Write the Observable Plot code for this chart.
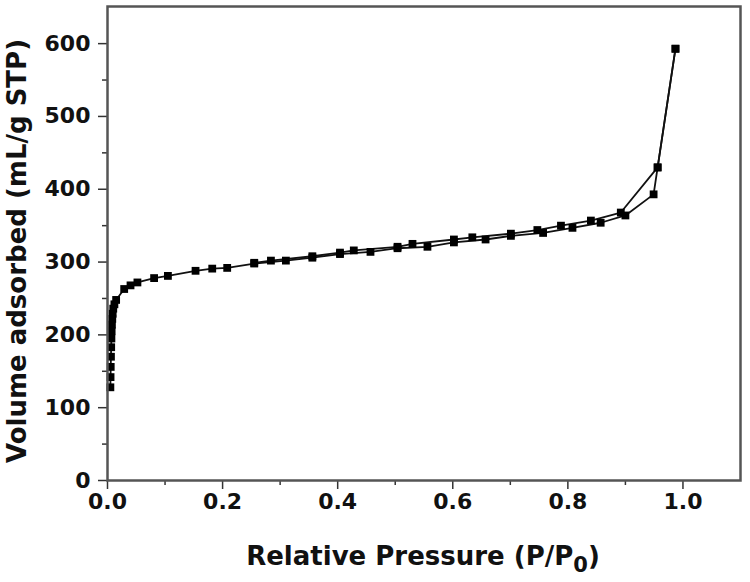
<!DOCTYPE html>
<html>
<head>
<meta charset="utf-8">
<script src="https://cdn.jsdelivr.net/npm/d3@7"></script>
<script src="https://cdn.jsdelivr.net/npm/@observablehq/plot@0.6"></script>
<style>
  html, body { margin: 0; padding: 0; background: #fff; }
  #chart svg { display: block; }
</style>
</head>
<body>
<div id="chart"></div>
<script>
// Adsorption branch
const adsP = [0.005, 0.0053, 0.0056, 0.006, 0.0064, 0.0068, 0.0072, 0.0077, 0.0083, 0.009, 0.010, 0.012, 0.015, 0.029, 0.040, 0.052, 0.081, 0.105, 0.153, 0.182, 0.208, 0.255, 0.310, 0.356, 0.404, 0.457, 0.504, 0.556, 0.602, 0.657, 0.701, 0.757, 0.808, 0.857, 0.900, 0.949, 0.956, 0.987];
const adsV = [128, 142, 156, 170, 183, 195, 205, 214, 222, 229, 236, 242, 248, 263, 268, 272, 278, 281, 288, 291, 292, 298, 302, 306, 311, 314, 319, 321, 327, 331, 336, 340, 347, 354, 364, 393, 430, 593];
// Desorption branch
const desP = [0.987, 0.956, 0.892, 0.840, 0.788, 0.747, 0.701, 0.634, 0.602, 0.530, 0.504, 0.428, 0.404, 0.356, 0.284, 0.255];
const desV = [593, 430, 368, 357, 350, 344, 339, 334, 331, 325, 321, 316, 313, 308, 302, 299];

const xMajor = [0, 0.2, 0.4, 0.6, 0.8, 1.0];
const xMinor = [0.1, 0.3, 0.5, 0.7, 0.9];
const yMajor = [0, 100, 200, 300, 400, 500, 600];
const yMinor = [50, 150, 250, 350, 450, 550];

const data = [
  ...adsP.map((p, i) => ({branch: "ads", p, v: adsV[i]})),
  ...desP.map((p, i) => ({branch: "des", p, v: desV[i]}))
];

const FONT = "'DejaVu Sans', sans-serif";

const chart = Plot.plot({
  width: 750,
  height: 582,
  marginLeft: 107,
  marginRight: 10,
  marginTop: 6,
  marginBottom: 102,
  style: {fontFamily: FONT, background: "#fff"},
  x: {domain: [0, 1.1], axis: null, label: null},
  y: {domain: [0, 651], axis: null, label: null},
  marks: [
    Plot.axisX(xMinor, {tickSize: 5, tickFormat: () => "", label: null, stroke: "#333", strokeWidth: 1.5}),
    Plot.axisX(xMajor, {tickSize: 9, tickPadding: 4, tickFormat: d3.format(".1f"), label: null, stroke: "#333", strokeWidth: 1.5, fontSize: 22, fontWeight: "bold", fill: "#111"}),
    Plot.axisY(yMinor, {tickSize: 5, tickFormat: () => "", label: null, stroke: "#333", strokeWidth: 1.5}),
    Plot.axisY(yMajor, {tickSize: 9, tickPadding: 8, tickFormat: d3.format("d"), label: null, stroke: "#333", strokeWidth: 1.5, fontSize: 22, fontWeight: "bold", fill: "#111"}),
    Plot.line(data, {x: "p", y: "v", z: "branch", stroke: "#111", strokeWidth: 1.8}),
    Plot.dot(data, {x: "p", y: "v", symbol: "square", r: 4.4, fill: "#000", stroke: "none"}),
    Plot.frame({stroke: "#555", strokeWidth: 2.5})
  ]
});

document.getElementById("chart").appendChild(chart);

const svg = d3.select(chart);
// x axis title with subscript
const xt = svg.append("text")
  .attr("x", 423).attr("y", 565)
  .attr("text-anchor", "middle")
  .attr("font-family", FONT).attr("font-weight", "bold").attr("font-size", 26).attr("fill", "#111");
xt.append("tspan").text("Relative Pressure (P/P");
xt.append("tspan").attr("font-size", 21).attr("dy", 7).text("0");
xt.append("tspan").attr("dy", -7).text(")");

// y axis title
svg.append("text")
  .attr("transform", "translate(26,251) rotate(-90)")
  .attr("text-anchor", "middle")
  .attr("font-family", FONT).attr("font-weight", "bold").attr("font-size", 26).attr("fill", "#111")
  .text("Volume adsorbed (mL/g STP)");
</script>
</body>
</html>
